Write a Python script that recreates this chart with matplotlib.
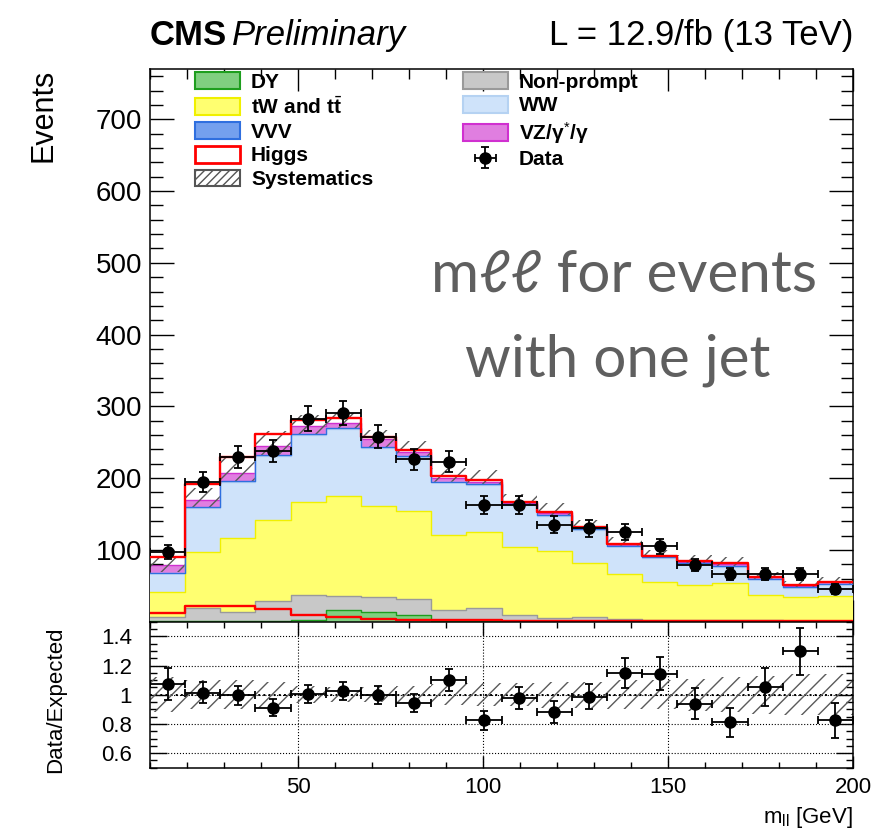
import numpy as np
import matplotlib.pyplot as plt
from matplotlib.patches import Patch
from matplotlib.ticker import MultipleLocator, FormatStrFormatter

plt.rcParams['font.family'] = ['Liberation Sans', 'DejaVu Sans']
plt.rcParams['mathtext.fontset'] = 'custom'
plt.rcParams['mathtext.rm'] = 'Liberation Sans'
plt.rcParams['mathtext.it'] = 'Liberation Sans:italic'
plt.rcParams['mathtext.bf'] = 'Liberation Sans:bold'
plt.rcParams['hatch.linewidth'] = 1.0
plt.rcParams['hatch.color'] = '#5a5a5a'

# m_ll binning (GeV)
mll_lo, mll_hi, n_bins = 10.0, 200.0, 20

# expected events per bin, one array per process
dy        = [0.3, 1.0, 0.5, 1.0, 3.0, 16.0, 14.0, 9.0, 1.0, 0.5, 0.3, 0.2, 0.2, 0.1, 0.1, 0.1, 0.0, 0.0, 0.0, 0.0]
nonprompt = [6.5, 17.5, 13.0, 28.5, 34.0, 20.0, 20.5, 22.0, 15.3, 18.0, 8.7, 5.4, 6.0, 4.0, 2.5, 2.5, 2.0, 2.0, 1.5, 1.5]
top       = [34.5, 79.0, 103.0, 112.0, 130.4, 139.3, 126.0, 123.4, 104.2, 107.0, 94.5, 92.4, 75.2, 62.4, 53.2, 48.6, 52.4, 35.2, 32.5, 34.3]
ww        = [26.0, 61.4, 78.2, 89.7, 93.0, 93.0, 81.4, 74.6, 73.5, 65.2, 59.3, 49.0, 46.9, 38.5, 33.5, 29.5, 22.3, 22.3, 13.5, 16.4]
vvv       = [0.5, 0.8, 1.0, 1.0, 1.0, 1.0, 1.0, 2.0, 1.0, 1.0, 0.5, 1.0, 0.5, 0.5, 0.5, 0.5, 0.5, 0.5, 0.5, 0.5]
vz        = [11.0, 9.9, 12.0, 12.0, 10.6, 8.2, 11.6, 6.0, 5.3, 3.6, 1.7, 4.0, 1.5, 1.9, 1.0, 2.0, 3.2, 1.8, 1.9, 2.1]
higgs     = [11.5, 22.0, 22.0, 17.0, 9.5, 6.0, 3.5, 2.5, 2.0, 2.0, 1.5, 1.5, 1.5, 1.5, 1.0, 1.0, 1.0, 1.0, 1.0, 1.0]
# relative systematic uncertainty per bin
syst      = [0.12, 0.10, 0.10, 0.09, 0.06, 0.05, 0.05, 0.06, 0.07, 0.08, 0.08, 0.09, 0.09, 0.10, 0.10, 0.11, 0.12, 0.13, 0.14, 0.14]
# observed events
data      = [97, 194, 229, 238, 283, 291, 258, 226, 223, 163, 163, 135, 130, 125, 105, 79, 66, 66, 66, 46]

# colours (fill, edge)
col_dy  = ('#80cf80', '#1e9e1e')
col_np  = ('#c8c8c8', '#9a9a9a')
col_top = ('#ffff70', '#f0f000')
col_ww  = ('#cfe3fa', '#b5d2f2')
col_vvv = ('#74a0ee', '#2f6fdf')
col_vz  = ('#e07ee0', '#d030d0')


def steps(v):
    v = np.asarray(v, dtype=float)
    return np.append(v, v[-1])


edges = np.linspace(mll_lo, mll_hi, n_bins + 1)
centers = 0.5 * (edges[:-1] + edges[1:])
halfw = 0.5 * np.diff(edges)
data = np.asarray(data, dtype=float)
syst = np.asarray(syst)
higgs = np.asarray(higgs)

W, H = 889, 834
fig = plt.figure(figsize=(W / 100, H / 100), dpi=100)
ax = fig.add_axes([150 / W, 1 - 621.7 / H, 703 / W, (621.7 - 69) / H])
rax = fig.add_axes([150 / W, 1 - 767.7 / H, 703 / W, 146 / H])

# stacked backgrounds
base = np.zeros(n_bins)
for vals, (fc, ec) in [(dy, col_dy), (nonprompt, col_np), (top, col_top),
                       (ww, col_ww), (vvv, col_vvv), (vz, col_vz)]:
    upper = base + np.asarray(vals)
    z = 1 if vals is vz else 3
    ax.fill_between(edges, steps(base), steps(upper), step='post',
                    facecolor=fc, edgecolor='none', lw=0, zorder=z)
    ax.step(edges, steps(upper), where='post', color=ec, lw=1.0, zorder=z + 0.1)
    base = upper
bkg = base
total = bkg + higgs

# systematics band (hidden where filled histograms sit on top)
ax.fill_between(edges, steps(bkg * (1 - syst)), steps(bkg * (1 + syst)), step='post',
                facecolor='none', edgecolor='#5a5a5a', hatch='//', lw=0, zorder=2)

# Higgs: stacked on top and also on its own
ax.step(edges, steps(total), where='post', color='red', lw=1.7, zorder=5)
ax.step(edges, steps(higgs), where='post', color='red', lw=1.7, zorder=5)

eb = ax.errorbar(centers, data, yerr=np.sqrt(data), xerr=halfw, fmt='o', color='black',
                 ms=8, lw=1.3, capsize=3, capthick=1.3, zorder=6)

ax.set_xlim(mll_lo, mll_hi)
ax.set_ylim(0, 770)
ax.set_yticks(np.arange(100, 701, 100))
ax.yaxis.set_minor_locator(MultipleLocator(20))
ax.xaxis.set_major_locator(MultipleLocator(50))
ax.xaxis.set_minor_locator(MultipleLocator(10))
ax.tick_params(which='both', direction='in', top=True, right=True, labelbottom=False, width=1)
ax.tick_params(axis='y', which='major', length=17, labelsize=20, pad=5.5)
ax.tick_params(axis='y', which='minor', length=9)
ax.tick_params(axis='x', which='major', length=16)
ax.tick_params(axis='x', which='minor', length=7)

# ratio panel
ratio = data / total
ratio_err = np.sqrt(data) / total
rax.fill_between(edges, steps(1 - syst), steps(1 + syst), step='post',
                 facecolor='none', edgecolor='#5a5a5a', hatch='//', lw=0, zorder=2)
rax.grid(True, which='major', ls=':', color='black', lw=0.8)
rax.axhline(1.0, ls=':', color='black', lw=1.4, zorder=1)
rax.errorbar(centers, ratio, yerr=ratio_err, xerr=halfw, fmt='o', color='black',
             ms=8, lw=1.3, capsize=3, capthick=1.3, zorder=6)
rax.set_xlim(mll_lo, mll_hi)
rax.set_ylim(0.5, 1.5)
rax.set_yticks([0.6, 0.8, 1.0, 1.2, 1.4])
rax.yaxis.set_major_formatter(FormatStrFormatter('%g'))
rax.yaxis.set_minor_locator(MultipleLocator(0.05))
rax.xaxis.set_major_locator(MultipleLocator(50))
rax.xaxis.set_minor_locator(MultipleLocator(10))
rax.tick_params(which='both', direction='in', top=True, right=True, width=1, labelsize=16)
rax.tick_params(axis='y', which='major', length=12, pad=13)
rax.tick_params(axis='y', which='minor', length=5)
rax.tick_params(axis='x', which='major', length=9, pad=6.5)
rax.tick_params(axis='x', which='minor', length=4)

for a in (ax, rax):
    for s in a.spines.values():
        s.set_linewidth(1.1)

# legend, two columns
handles = [
    Patch(facecolor=col_dy[0], edgecolor=col_dy[1], lw=1.5, label='DY'),
    Patch(facecolor=col_top[0], edgecolor=col_top[1], lw=1.5, label=r'tW and t$\bar{\mathbf{t}}$'),
    Patch(facecolor=col_vvv[0], edgecolor=col_vvv[1], lw=1.5, label='VVV'),
    Patch(facecolor='white', edgecolor='red', lw=2, label='Higgs'),
    Patch(facecolor='white', edgecolor='#555555', hatch='////', lw=1.5, label='Systematics'),
    Patch(facecolor=col_np[0], edgecolor=col_np[1], lw=1.5, label='Non-prompt'),
    Patch(facecolor=col_ww[0], edgecolor=col_ww[1], lw=1.5, label='WW'),
    Patch(facecolor=col_vz[0], edgecolor=col_vz[1], lw=1.5, label='VZ/γ$^{*}$/γ'),
    eb,
]
labels = [h.get_label() for h in handles[:-1]] + ['Data']
ax.legend(handles, labels, ncol=2, loc='upper left', bbox_to_anchor=(195 / W, 1 - 72 / H),
          bbox_transform=fig.transFigure, frameon=False, prop={'weight': 'bold', 'size': 15},
          handlelength=2.16, handleheight=0.87, handletextpad=0.53, columnspacing=4.3,
          labelspacing=0.2, borderpad=0, borderaxespad=0)

# axis titles and header
fig.text(44 / W, 1 - 69 / H, 'Events', rotation=90, ha='center', va='top', size=22)
fig.text(56 / W, 1 - 700 / H, 'Data/Expected', rotation=90, ha='center', va='center', size=16)
fig.text(853 / W, 1 - 830 / H, r'm$_{\mathrm{ll}}$ [GeV]', ha='right', va='bottom', size=16)
fig.text(150 / W, 1 - 45 / H, 'CMS', weight='bold', size=25, va='baseline')
fig.text(232 / W, 1 - 45 / H, 'Preliminary', style='italic', size=25, va='baseline')
fig.text(853 / W, 1 - 45 / H, 'L = 12.9/fb (13 TeV)', ha='right', va='baseline', size=25)

fig.text(624 / W, 1 - 291.7 / H, 'mℓℓ for events', ha='center', va='baseline', size=42,
         color='#5f5f5f', family=['Lato', 'DejaVu Sans'])
fig.text(618 / W, 1 - 376.7 / H, 'with one jet', ha='center', va='baseline', size=42,
         color='#5f5f5f', family=['Lato', 'DejaVu Sans'])

fig.savefig('out.png', dpi=100)
